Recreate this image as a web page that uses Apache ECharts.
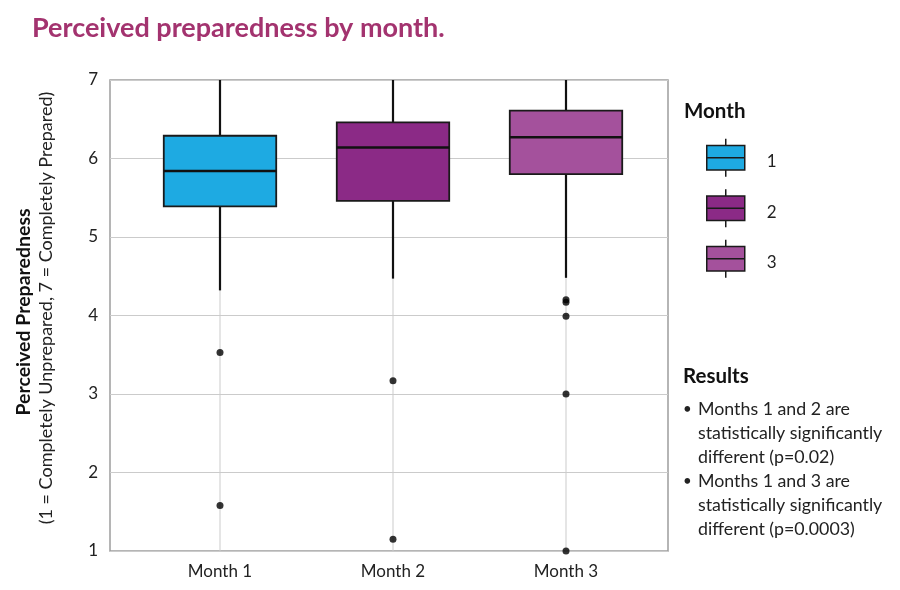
<!DOCTYPE html>
<html><head><meta charset="utf-8">
<script src="https://cdn.jsdelivr.net/npm/echarts@6/dist/echarts.min.js"></script>
<style>html,body{margin:0;padding:0;background:#fff}#c{width:900px;height:590px}</style>
</head><body><div id="c"></div><script>
const categories = ['Month 1', 'Month 2', 'Month 3'];
const legendNames = ['1', '2', '3'];
// [min whisker, Q1, median, Q3, max whisker]
const box1 = [4.32, 5.39, 5.84, 6.29, 7];
const box2 = [4.47, 5.46, 6.14, 6.46, 7];
const box3 = [4.48, 5.80, 6.27, 6.61, 7];
const outliers1 = [3.53, 1.58];
const outliers2 = [3.17, 1.15];
const outliers3 = [4.20, 4.17, 3.99, 3.00, 1.00];
const yMin = 1, yMax = 7, yInterval = 1;
const colors = ['#1eaae2', '#8b2a86', '#a4519c'];
const titleText = 'Perceived preparedness by month.';
const yTitle = 'Perceived Preparedness';
const ySubtitle = '(1 = Completely Unprepared, 7 = Completely Prepared)';
const resultsTitle = 'Results';
const resultsLines = [
  ['Months 1 and 2 are', 'statistically significantly', 'different (p=0.02)'],
  ['Months 1 and 3 are', 'statistically significantly', 'different (p=0.0003)']
];
const FONT = 'Lato';

function renderBox(params, api) {
  const xi = api.value(0);
  const pMin = api.coord([xi, api.value(1)]);
  const pQ1 = api.coord([xi, api.value(2)]);
  const pMed = api.coord([xi, api.value(3)]);
  const pQ3 = api.coord([xi, api.value(4)]);
  const pMax = api.coord([xi, api.value(5)]);
  const pTop = api.coord([xi, yMax]);
  const pBot = api.coord([xi, yMin]);
  const w = api.size([1, 0])[0] * 0.65;
  const cx = pMed[0];
  return {
    type: 'group', children: [
      { type: 'line', shape: { x1: cx, y1: pBot[1], x2: cx, y2: pTop[1] }, style: { stroke: '#cbcbcb', lineWidth: 1 } },
      { type: 'line', shape: { x1: cx, y1: pQ3[1], x2: cx, y2: pMax[1] }, style: { stroke: '#111', lineWidth: 2.2 } },
      { type: 'line', shape: { x1: cx, y1: pQ1[1], x2: cx, y2: pMin[1] }, style: { stroke: '#111', lineWidth: 2.2 } },
      { type: 'rect', shape: { x: cx - w / 2, y: pQ3[1], width: w, height: pQ1[1] - pQ3[1] }, style: { fill: api.visual('color'), stroke: '#1a1a1a', lineWidth: 1.8 } },
      { type: 'line', shape: { x1: cx - w / 2, y1: pMed[1], x2: cx + w / 2, y2: pMed[1] }, style: { stroke: '#111', lineWidth: 2.5 } }
    ]
  };
}

const boxes = [box1, box2, box3];
const outs = [outliers1, outliers2, outliers3];
const series = boxes.map((b, i) => ({
  name: legendNames[i], type: 'custom', xAxisIndex: 1, yAxisIndex: 1,
  itemStyle: { color: colors[i], borderColor: '#1a1a1a', borderWidth: 1.5 },
  encode: { x: 0, y: [1, 2, 3, 4, 5] },
  data: [[categories[i]].concat(b)],
  renderItem: renderBox, z: 2
}));
series.push({
  name: 'outliers', type: 'scatter', xAxisIndex: 1, yAxisIndex: 1,
  symbolSize: 7, itemStyle: { color: '#000' }, z: 5,
  data: outs.flatMap((arr, i) => arr.map(v => [categories[i], v]))
});

const graphics = [];
graphics.push({ type: 'text', x: 24, y: 312, rotation: Math.PI / 2,
  style: { text: yTitle, font: 'bold 19.5px ' + FONT, fill: '#111', textAlign: 'center', textVerticalAlign: 'middle' } });
graphics.push({ type: 'text', x: 46, y: 308, rotation: Math.PI / 2,
  style: { text: ySubtitle, font: '18px ' + FONT, fill: '#222', textAlign: 'center', textVerticalAlign: 'middle' } });
graphics.push({ type: 'text', x: 684, y: 111,
  style: { text: 'Month', font: 'bold 20.5px ' + FONT, fill: '#111', textVerticalAlign: 'middle' } });
graphics.push({ type: 'text', x: 683, y: 376,
  style: { text: resultsTitle, font: 'bold 20.5px ' + FONT, fill: '#111', textVerticalAlign: 'middle' } });
let ly = 409;
resultsLines.forEach(group => {
  graphics.push({ type: 'text', x: 683, y: ly,
    style: { text: '•', font: '15px ' + FONT, fill: '#222', textVerticalAlign: 'middle' } });
  group.forEach(line => {
    graphics.push({ type: 'text', x: 698, y: ly,
      style: { text: line, font: '17.8px ' + FONT, fill: '#222', textVerticalAlign: 'middle' } });
    ly += 24;
  });
});

const chart = echarts.init(document.getElementById('c'), null, { renderer: 'canvas' });
chart.setOption({
  backgroundColor: '#fff',
  animation: false,
  textStyle: { fontFamily: FONT },
  title: { text: titleText, left: 27, top: 10,
    textStyle: { fontFamily: FONT, fontSize: 27, fontWeight: 'bold', color: '#a3336f' } },
  grid: [
    { left: 110, top: 80, width: 558, height: 471, show: true, borderColor: '#9d9d9d', borderWidth: 1.5, backgroundColor: 'transparent' },
    { left: 133.5, top: 80, width: 519, height: 471 }
  ],
  xAxis: [
    { type: 'value', gridIndex: 0, show: false, min: 0, max: 1 },
    { type: 'category', gridIndex: 1, data: categories,
      axisLine: { show: false }, axisTick: { show: false }, splitLine: { show: false },
      axisLabel: { fontFamily: FONT, fontSize: 17, color: '#222', margin: 12 } }
  ],
  yAxis: [
    { type: 'value', gridIndex: 0, min: yMin, max: yMax, interval: yInterval,
      axisLine: { show: false }, axisTick: { show: false },
      axisLabel: { fontFamily: FONT, fontSize: 17, color: '#222', margin: 12 },
      splitLine: { lineStyle: { color: '#cbcbcb', width: 1.2 } } },
    { type: 'value', gridIndex: 1, min: yMin, max: yMax, show: false }
  ],
  legend: {
    data: legendNames, orient: 'vertical', left: 701, top: 133,
    itemWidth: 38, itemHeight: 39, itemGap: 11, selectedMode: false,
    icon: 'path://M0,3.5H20V16.5H0Z M0,10H20 M10,0V3.5 M10,16.5V20',
    itemStyle: { borderColor: '#1a1a1a', borderWidth: 1.5 },
    formatter: '{s|}\n{n|{name}}',
    textStyle: { fontFamily: FONT, fontSize: 17, color: '#222', padding: [0, 0, 0, 17],
      rich: { s: { height: 8, lineHeight: 8, fontSize: 8 }, n: { fontFamily: FONT, fontSize: 17, color: '#222', lineHeight: 20 } } }
  },
  graphic: graphics,
  series: series
});
</script></body></html>
